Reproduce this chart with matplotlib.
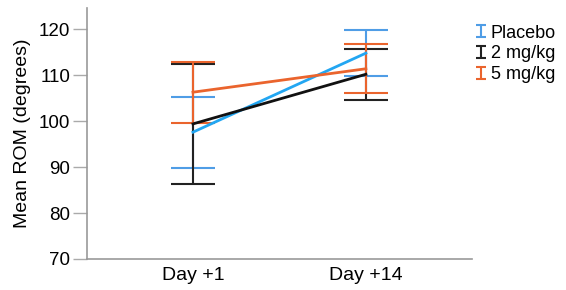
import matplotlib.pyplot as plt
import numpy as np
from matplotlib.container import ErrorbarContainer
from matplotlib.legend_handler import HandlerErrorbar

plt.rcParams['font.family'] = ['Liberation Sans', 'DejaVu Sans']

days = ['Day +1', 'Day +14']
groups = ['Placebo', '2 mg/kg', '5 mg/kg']
means = {
    'Placebo': [97.6, 114.8],
    '2 mg/kg': [99.4, 110.2],
    '5 mg/kg': [106.3, 111.4],
}
errs = {
    'Placebo': [7.7, 5.0],
    '2 mg/kg': [13.1, 5.5],
    '5 mg/kg': [6.6, 5.3],
}
line_colors = {'Placebo': '#22a6f2', '2 mg/kg': '#111111', '5 mg/kg': '#ea642d'}
bar_colors = {'Placebo': '#4f9de6', '2 mg/kg': '#222222', '5 mg/kg': '#ea642d'}

fig = plt.figure(figsize=(5.66, 2.90), dpi=100)
ax = fig.add_axes([0.1537, 0.107, 0.680, 0.865])

x = np.arange(len(days))
for g in groups:
    ax.errorbar(x, means[g], yerr=errs[g], fmt='none', ecolor=bar_colors[g],
                elinewidth=1.5, capsize=15.5, capthick=1.5)
for g in groups:
    ax.plot(x, means[g], color=line_colors[g], lw=2, zorder=3)

# small proxy error bars for the legend "I" symbols
handles = []
for g in groups:
    h = ax.errorbar([np.nan], [np.nan], yerr=[1], fmt='none', ecolor=bar_colors[g],
                    elinewidth=1.5, capsize=3.5, capthick=1.5, label=g)
    handles.append(h)

ax.set_xlim(-0.613, 1.613)
ax.set_ylim(70, 124.6)
ax.set_yticks([70, 80, 90, 100, 110, 120])
ax.set_xticks(x)
ax.set_xticklabels(days)
ax.tick_params(axis='y', length=10, width=1, color='#aaaaaa', labelsize=13.5, pad=2)
ax.tick_params(axis='x', length=0, labelsize=14, pad=6)
for s in ['top', 'right']:
    ax.spines[s].set_visible(False)
for s in ['left', 'bottom']:
    ax.spines[s].set_color('#999999')
    ax.spines[s].set_linewidth(1.2)
ax.set_ylabel('Mean ROM (degrees)', fontsize=14, labelpad=6)

leg = fig.legend(handles=handles, loc='upper left', bbox_to_anchor=(0.843, 0.915),
                 frameon=False, fontsize=13, handlelength=0.4, handletextpad=0.35,
                 labelspacing=0.2, borderaxespad=0, borderpad=0,
                 handler_map={ErrorbarContainer: HandlerErrorbar(yerr_size=0.33)})

fig.savefig('out.png', dpi=100)
